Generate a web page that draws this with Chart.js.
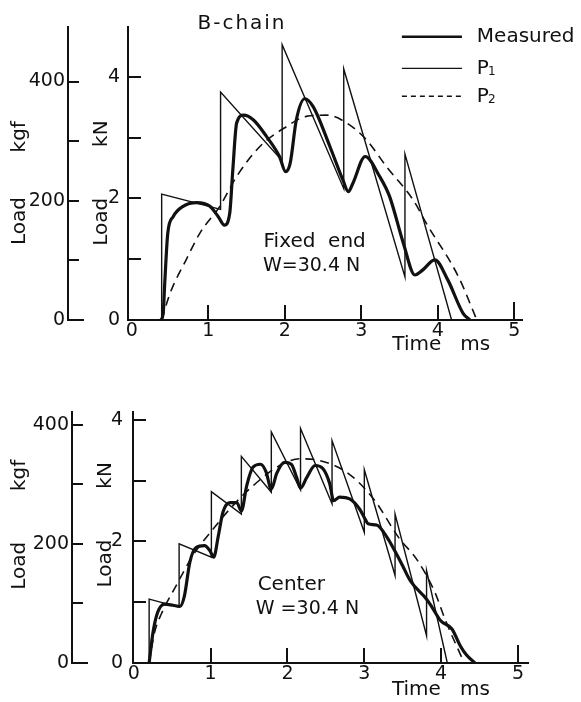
<!DOCTYPE html>
<html>
<head>
<meta charset="utf-8">
<script src="https://cdn.jsdelivr.net/npm/chart.js@4/dist/chart.umd.min.js"></script>
<style>
  html, body { margin: 0; padding: 0; background: #fff; }
  canvas { display: block; }
</style>
</head>
<body>
<canvas id="fixedChart" width="581" height="357"></canvas>
<canvas id="centerChart" width="581" height="345"></canvas>
<script>
const ink = '#111';
const fontFamily = "'DejaVu Sans', sans-serif";

// axis ticks
const timeTicks = [0, 1, 2, 3, 4, 5];
const timeTickLabels = ['0', '1', '2', '3', '4', '5'];
const kNTicks = [0, 1, 2, 3, 4];
const kNTickLabels = ['0', '', '2', '', '4'];
const kgfTicks = [0, 100, 200, 300, 400];
const kgfTickLabels = ['0', '', '200', '', '400'];
const legendLabels = ['Measured', 'P1', 'P2'];

// upper panel "Fixed end" : [time ms, load kN]
const fixedMeasured = [[0.38, 0], [0.41, 0.11], [0.43, 0.6], [0.47, 1.43], [0.54, 1.7], [0.67, 1.87],
  [0.85, 1.93], [1.02, 1.87], [1.13, 1.7], [1.21, 1.56], [1.28, 1.76], [1.32, 2.47], [1.37, 3.24],
  [1.46, 3.37], [1.59, 3.29], [1.76, 3.02], [1.93, 2.69], [2.01, 2.44], [2.07, 2.58], [2.15, 3.29],
  [2.26, 3.64], [2.37, 3.51], [2.59, 2.85], [2.76, 2.3], [2.83, 2.11], [2.89, 2.25], [3.05, 2.69],
  [3.24, 2.36], [3.37, 2.03], [3.55, 1.26], [3.7, 0.74], [3.8, 0.82], [3.96, 0.99], [4.13, 0.66],
  [4.33, 0.11], [4.42, 0]];
const fixedP1 = [[0.39, 0], [0.39, 2.07], [1.16, 1.82], [1.16, 3.75], [1.965, 2.62], [1.965, 4.53],
  [2.77, 2.16], [2.77, 4.13], [3.57, 0.71], [3.57, 2.73], [4.18, 0]];
const fixedP2 = [[0.39, 0], [0.5, 0.44], [0.71, 0.99], [0.89, 1.43], [1.15, 1.87], [1.37, 2.36],
  [1.67, 2.85], [2.02, 3.18], [2.28, 3.35], [2.55, 3.37], [2.81, 3.24], [3.07, 2.96], [3.33, 2.52],
  [3.68, 1.97], [3.85, 1.59], [4.27, 0.71], [4.51, 0]];

// lower panel "Center"
const centerMeasured = [[0.2, 0], [0.25, 0.5], [0.31, 0.83], [0.4, 0.97], [0.51, 0.95], [0.6, 0.93],
  [0.66, 1.11], [0.73, 1.66], [0.81, 1.9], [0.92, 1.93], [0.99, 1.85], [1.04, 1.74], [1.1, 2.09],
  [1.16, 2.48], [1.25, 2.64], [1.34, 2.64], [1.4, 2.5], [1.47, 2.92], [1.55, 3.22], [1.65, 3.27],
  [1.72, 3.15], [1.79, 2.86], [1.86, 3.12], [1.96, 3.3], [2.05, 3.27], [2.12, 3.05], [2.17, 2.88],
  [2.25, 3.05], [2.36, 3.25], [2.46, 3.2], [2.55, 2.95], [2.6, 2.67], [2.68, 2.73], [2.81, 2.7],
  [2.94, 2.53], [3.01, 2.37], [3.05, 2.29], [3.16, 2.27], [3.3, 2.06], [3.49, 1.62], [3.6, 1.35],
  [3.81, 1.05], [3.88, 0.92], [3.99, 0.7], [4.14, 0.56], [4.25, 0.28], [4.33, 0.13], [4.44, 0]];
const centerP1 = [[0.2, 0], [0.2, 1.05], [0.59, 0.92], [0.59, 1.96], [1.01, 1.74], [1.01, 2.82],
  [1.4, 2.45], [1.4, 3.4], [1.79, 2.81], [1.79, 3.8], [2.17, 2.85], [2.17, 3.86], [2.58, 2.62],
  [2.58, 3.66], [3.0, 2.15], [3.0, 3.18], [3.4, 1.44], [3.4, 2.45], [3.81, 0.45], [3.81, 1.52], [4.08, 0]];
const centerP2 = [[0.2, 0], [0.27, 0.5], [0.36, 0.81], [0.55, 1.27], [0.77, 1.77], [1.03, 2.2],
  [1.29, 2.59], [1.6, 2.97], [1.9, 3.25], [2.16, 3.36], [2.42, 3.33], [2.77, 3.14], [3.12, 2.7],
  [3.46, 2.04], [3.68, 1.71], [3.92, 1.16], [4.05, 0.72], [4.3, 0]];

// inward tick marks, drawn from the scales
const innerTicks = {
  id: 'innerTicks',
  afterDraw(chart, args, o) {
    const ctx = chart.ctx;
    ctx.save();
    ctx.strokeStyle = ink;
    ctx.lineWidth = 2;
    ['kgf', 'kN'].forEach(id => {
      const s = chart.scales[id];
      s.ticks.forEach(t => {
        const y = Math.round(s.getPixelForValue(t.value));
        const len = t.value === 0 ? o[id + 'Zero'] : o[id];
        ctx.beginPath();
        ctx.moveTo(s.right, y);
        ctx.lineTo(s.right + len, y);
        ctx.stroke();
      });
    });
    const sx = chart.scales.x;
    sx.ticks.forEach(t => {
      if (t.value <= 0) return;
      const x = Math.round(sx.getPixelForValue(t.value));
      ctx.beginPath();
      ctx.moveTo(x, sx.top);
      ctx.lineTo(x, sx.top - (t.value === 5 ? o.x + 3 : o.x));
      ctx.stroke();
    });
    ctx.restore();
  }
};

function drawLabel(ctx, label, x, y) {
  const m = label.match(/^P(\d)$/);
  ctx.textAlign = 'left';
  if (!m) { ctx.fillText(label, x, y); return; }
  ctx.font = `20px ${fontFamily}`;
  ctx.fillText('P', x, y);
  const w = ctx.measureText('P').width;
  ctx.font = `12px ${fontFamily}`;
  ctx.fillText(m[1], x + w - 1, y + 4);
}

// panel texts and legend
const notes = {
  id: 'notes',
  afterDraw(chart, args, o) {
    const {ctx, scales: {x, kN}} = chart;
    ctx.save();
    ctx.fillStyle = ink;
    ctx.strokeStyle = ink;
    ctx.textBaseline = 'middle';
    (o.texts || []).forEach(n => {
      ctx.font = `${n.size}px ${fontFamily}`;
      ctx.letterSpacing = (n.spacing || 0) + 'px';
      ctx.textAlign = 'center';
      ctx.fillText(n.text, x.getPixelForValue(n.t), kN.getPixelForValue(n.v));
    });
    ctx.letterSpacing = '0px';
    (o.legend || []).forEach((item, i) => {
      const y = kN.getPixelForValue(item.v);
      ctx.lineWidth = item.width;
      ctx.setLineDash(item.dash);
      ctx.beginPath();
      ctx.moveTo(x.getPixelForValue(o.lineFrom), y);
      ctx.lineTo(x.getPixelForValue(o.lineTo), y);
      ctx.stroke();
      ctx.font = `20px ${fontFamily}`;
      drawLabel(ctx, legendLabels[i], x.getPixelForValue(o.textAt), y);
    });
    ctx.restore();
  }
};

function makeDatasets(measured, p1, p2) {
  const pts = arr => arr.map(([x, y]) => ({x, y}));
  return [
    {label: legendLabels[0], data: pts(measured), yAxisID: 'kN', borderColor: ink, borderWidth: 3.2,
      cubicInterpolationMode: 'monotone'},
    {label: legendLabels[1], data: pts(p1), yAxisID: 'kN', borderColor: ink, borderWidth: 1.4, tension: 0},
    {label: legendLabels[2], data: pts(p2), yAxisID: 'kN', borderColor: ink, borderWidth: 1.6,
      borderDash: [9, 6], cubicInterpolationMode: 'monotone'}
  ];
}

function makePanel(id, p) {
  const tickFont = {family: fontFamily, size: 19};
  const titleFont = {family: fontFamily, size: 20};
  const noGrid = {display: false, drawTicks: false, tickLength: 0};
  new Chart(document.getElementById(id), {
    type: 'line',
    data: {datasets: makeDatasets(p.measured, p.p1, p.p2)},
    options: {
      responsive: false,
      animation: false,
      events: [],
      layout: {padding: {left: 0, top: p.padTop, right: p.padRight, bottom: 0}},
      elements: {point: {radius: 0}, line: {fill: false}},
      plugins: {
        legend: {display: false},
        tooltip: {enabled: false},
        innerTicks: {kgf: 11, kgfZero: 16, kN: 13, kNZero: 13, x: 15},
        notes: p.notes
      },
      scales: {
        x: {
          type: 'linear', min: p.xMin, max: p.xMax,
          afterBuildTicks: s => { s.ticks = timeTicks.map(v => ({value: v})); },
          afterFit: s => { s.height = p.xHeight; },
          grid: noGrid,
          border: {color: ink, width: 2},
          ticks: {color: ink, font: tickFont, padding: 0, maxRotation: 0,
            callback: (v, i) => timeTickLabels[i]},
          title: {display: true, text: p.xTitle, align: 'end', color: ink, font: titleFont, padding: 0}
        },
        kgf: {
          type: 'linear', position: 'left', weight: 10,
          min: 0, max: p.kNMax * 1000 / 9.80665,
          afterBuildTicks: s => { s.ticks = kgfTicks.map(v => ({value: v})); },
          afterFit: s => { s.width = p.kgfWidth; },
          grid: noGrid,
          border: {color: ink, width: 2},
          ticks: {color: ink, font: tickFont, padding: 3, callback: (v, i) => kgfTickLabels[i]},
          title: {display: true, text: p.kgfTitle, color: ink, font: titleFont, padding: {top: p.kgfTitlePad, bottom: 0}}
        },
        kN: {
          type: 'linear', position: 'left', weight: 0,
          min: 0, max: p.kNMax,
          afterBuildTicks: s => { s.ticks = kNTicks.map(v => ({value: v})); },
          afterFit: s => { s.width = p.kNWidth; },
          grid: noGrid,
          border: {color: ink, width: 2},
          ticks: {color: ink, font: tickFont, padding: p.kNTickPad, callback: (v, i) => kNTickLabels[i]},
          title: {display: true, text: p.kNTitle, color: ink, font: titleFont, padding: {top: p.kNTitlePad, bottom: 0}}
        }
      }
    },
    plugins: [innerTicks, notes]
  });
}

makePanel('fixedChart', {
  measured: fixedMeasured, p1: fixedP1, p2: fixedP2,
  padTop: 27, padRight: 59, xHeight: 37,
  xMin: -0.05, xMax: 5.1, kNMax: 4.82,
  kgfWidth: 68, kNWidth: 60, kNTickPad: 8,
  kgfTitlePad: 8, kNTitlePad: 22,
  kgfTitle: 'Load       kgf   ',
  kNTitle: 'Load        kN   ',
  xTitle: 'Time   ms     ',
  notes: {
    texts: [
      {text: 'B-chain', t: 1.44, v: 4.88, size: 20, spacing: 2},
      {text: 'Fixed  end', t: 2.39, v: 1.29, size: 20},
      {text: 'W=30.4 N', t: 2.35, v: 0.89, size: 19}
    ],
    legend: [
      {v: 4.66, width: 2.6, dash: []},
      {v: 4.14, width: 1.4, dash: []},
      {v: 3.68, width: 1.4, dash: [5, 4]}
    ],
    lineFrom: 3.53, lineTo: 4.315, textAt: 4.51
  }
});

makePanel('centerChart', {
  measured: centerMeasured, p1: centerP1, p2: centerP2,
  padTop: 55, padRight: 53, xHeight: 39,
  xMin: -0.01, xMax: 5.13, kNMax: 4.13,
  kgfWidth: 72, kNWidth: 61, kNTickPad: 10,
  kgfTitlePad: 8, kNTitlePad: 22,
  kgfTitle: '    Load        kgf',
  kNTitle: '    Load        kN',
  xTitle: 'Time   ms      ',
  notes: {
    texts: [
      {text: 'Center', t: 2.05, v: 1.28, size: 20},
      {text: 'W =30.4 N', t: 2.26, v: 0.89, size: 19}
    ]
  }
});
</script>
</body>
</html>
